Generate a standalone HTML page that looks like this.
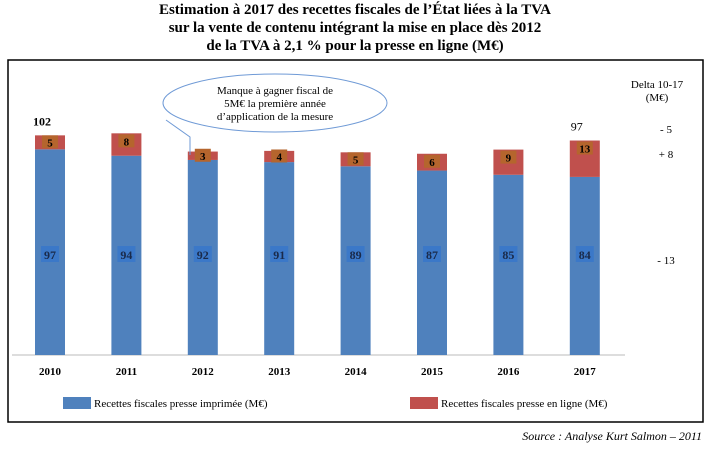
<!DOCTYPE html>
<html><head><meta charset="utf-8"><style>
body{margin:0;background:#fff;font-family:"Liberation Serif",serif;}
</style></head><body>
<svg width="710" height="451" viewBox="0 0 710 451" xmlns="http://www.w3.org/2000/svg" font-family="Liberation Serif, serif">
<g font-weight="bold" font-size="15" text-anchor="middle" fill="#000">
<text x="355" y="14">Estimation à 2017 des recettes fiscales de l’État liées à la TVA</text>
<text x="355" y="32">sur la vente de contenu intégrant la mise en place dès 2012</text>
<text x="355" y="50">de la TVA à 2,1 % pour la presse en ligne (M€)</text>
</g>
<rect x="8" y="60" width="695" height="362" fill="none" stroke="#000" stroke-width="1.5"/>
<g id="bars"></g>
<g font-size="11" text-anchor="middle">
<text x="657" y="88">Delta 10-17</text><text x="657" y="101">(M€)</text>
<text x="666" y="133">- 5</text><text x="666" y="158">+ 8</text><text x="666" y="264">- 13</text>
</g>
<g>
<path d="M166,120 L190,137 L190,155" fill="none" stroke="#6f9ad6" stroke-width="1"/>
<ellipse cx="275" cy="103" rx="112" ry="29" fill="#fff" stroke="#6f9ad6" stroke-width="1"/>
<g font-size="11" text-anchor="middle"><text x="275" y="94">Manque à gagner fiscal de</text><text x="275" y="107">5M€ la première année</text><text x="275" y="120">d’application de la mesure</text></g>
</g>
<g font-size="11">
<rect x="63" y="397" width="28" height="12" fill="#4f81bd"/>
<text x="94" y="407">Recettes fiscales presse imprimée (M€)</text>
<rect x="410" y="397" width="28" height="12" fill="#c0504d"/>
<text x="441" y="407">Recettes fiscales presse en ligne (M€)</text>
</g>
<text x="702" y="440" font-size="12" font-style="italic" text-anchor="end">Source : Analyse Kurt Salmon – 2011</text>
</svg>
<script>
const years=["2010","2011","2012","2013","2014","2015","2016","2017"];
const printVals=[97,94,92,91,89,87,85,84];
const onlineVals=[5,8,3,4,5,6,9,13];
const totalLabels=["102","","","","","","","97"];
const NS="http://www.w3.org/2000/svg";
const g=document.getElementById('bars');
const base=355,k=2.12,k2=2.8,x0=50,step=76.4,bw=30;
const xs=i=>x0+i*step, ys=v=>base-v*k;
function mk(t,a){const e=document.createElementNS(NS,t);for(const n in a)e.setAttribute(n,a[n]);g.appendChild(e);return e;}
mk('line',{x1:12,x2:625,y1:base,y2:base,stroke:'#bbb'});
years.forEach((y,i)=>{
 const cx=xs(i),p=printVals[i],o=onlineVals[i];
 const pt=ys(p), ot=pt-o*k2;
 const b=mk('rect',{x:cx-bw/2,y:pt,width:bw,height:p*k,fill:'#4f81bd'});
 
 
 const r=mk('rect',{x:cx-bw/2,y:ot,width:bw,height:o*k2,fill:'#c0504d'});
 
 
 const lb=mk('rect',{x:cx-9,y:246,width:18,height:16,fill:'#3b78c8'});
 
 
 const t1=mk('text',{x:cx,y:259,'text-anchor':'middle','font-size':12,'font-weight':'bold',fill:'#1a2a4a'});t1.textContent=p;
 
 
 const oy=Math.min((pt+ot)/2, ot+8);
 const ob=mk('rect',{x:cx-8,y:oy-7,width:16,height:13,fill:'#b5652d'});
 
 
 const t2=mk('text',{x:cx,y:oy+4,'text-anchor':'middle','font-size':11,'font-weight':'bold'});t2.textContent=o;
 
 
 if(totalLabels[i]){const t=mk('text',{x:cx-8,y:ot-10,'text-anchor':'middle','font-size':12,'font-weight':i==0?'bold':'normal'});t.textContent=totalLabels[i];
 
 }
 const yl=mk('text',{x:cx,y:375,'text-anchor':'middle','font-size':11,'font-weight':'bold'});yl.textContent=y;
 
 
});
</script>
</body></html>
